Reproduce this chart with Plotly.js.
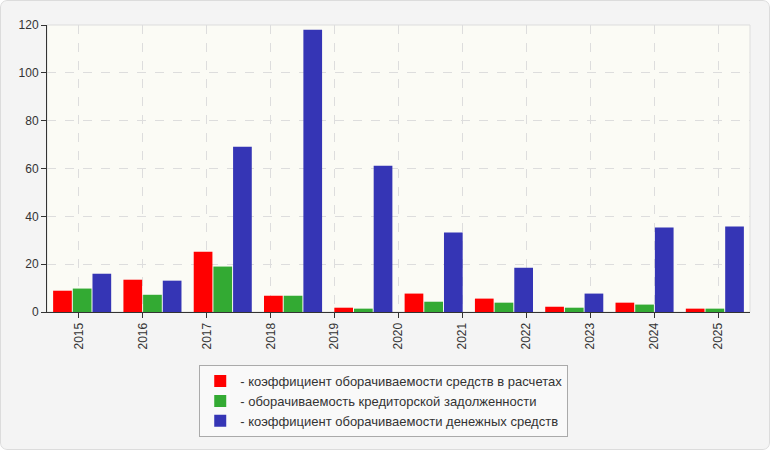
<!DOCTYPE html>
<html>
<head>
<meta charset="utf-8">
<script src="https://cdn.plot.ly/plotly-3.0.1.min.js"></script>
<style>
    html, body { margin: 0; padding: 0; background: #ffffff; }
    #wrap {
        position: relative;
        width: 770px;
        height: 450px;
        border-radius: 7px;
        overflow: hidden;
    }
    #wrap::after {
        content: '';
        position: absolute;
        left: 0; top: 0; right: 0; bottom: 0;
        border: 1px solid #dcdcdc;
        border-radius: 7px;
        pointer-events: none;
    }
    #grafico { width: 770px; height: 450px; }
</style>
</head>
<body>
<div id="wrap"><div id="grafico"></div></div>
<script>
// Подписи оси X (11 подписей, а групп столбцов на графике 10)
const years = ['2015', '2016', '2017', '2018', '2019', '2020', '2021', '2022', '2023', '2024', '2025'];

// Значения трёх рядов (по 10 групп)
const oborotRaschety = [8.9, 13.5, 25.2, 6.8, 1.8, 7.7, 5.6, 2.2, 3.9, 1.4];
const oborotKreditor = [9.8, 7.2, 19.0, 6.8, 1.4, 4.3, 3.9, 1.8, 3.1, 1.4];
const oborotDengi = [16.0, 13.1, 69.1, 118.0, 61.2, 33.2, 18.5, 7.7, 35.3, 35.7];

const seriesNames = [
    '- коэффициент оборачиваемости средств в расчетах',
    '- оборачиваемость кредиторской задолженности',
    '- коэффициент оборачиваемости денежных средств'
];
const seriesColors = ['#ff0000', '#33aa33', '#3535b5'];

// Позиции групп: 0..9
const groupPos = oborotDengi.map((v, i) => i);
const nGroups = groupPos.length;

// Подписи равномерно распределены по всей ширине (11 слотов)
const tickPos = years.map((y, i) => (i + 0.5) * nGroups / years.length - 0.5);

const fuente = { family: 'Liberation Sans, Arial, sans-serif', size: 12, color: '#333333' };

const trazas = [oborotRaschety, oborotKreditor, oborotDengi].map((vals, k) => ({
    type: 'bar',
    x: groupPos,
    y: vals,
    name: seriesNames[k],
    marker: { color: seriesColors[k], line: { width: 0 } },
    hoverinfo: 'y'
}));

const layout = {
    width: 770,
    height: 450,
    paper_bgcolor: '#f4f4f4',
    plot_bgcolor: '#fbfbf5',
    font: fuente,
    margin: { l: 47, r: 20, t: 25, b: 138, autoexpand: false },
    barmode: 'group',
    bargap: 0.16,
    bargroupgap: 0.05,
    showlegend: true,
    legend: {
        orientation: 'v',
        x: 0.479,
        xanchor: 'center',
        y: -0.185,
        yanchor: 'top',
        bgcolor: '#f9f9f9',
        bordercolor: '#aaaaaa',
        borderwidth: 1,
        font: { family: 'Liberation Sans, Arial, sans-serif', size: 13, color: '#333333' },
        tracegroupgap: 0,
        itemwidth: 30
    },
    xaxis: {
        type: 'linear',
        range: [-0.5, nGroups - 0.5],
        tickmode: 'array',
        tickvals: tickPos,
        ticktext: years,
        tickangle: -90,
        ticks: 'outside',
        ticklen: 5,
        tickcolor: '#333333',
        showline: true,
        linecolor: '#333333',
        linewidth: 1,
        showgrid: true,
        gridcolor: '#dddddd',
        griddash: 'dash',
        zeroline: false,
        tickfont: fuente,
        fixedrange: true
    },
    yaxis: {
        range: [0, 120],
        dtick: 20,
        ticks: 'outside',
        ticklen: 5,
        tickcolor: '#333333',
        showline: true,
        linecolor: '#333333',
        linewidth: 1,
        showgrid: true,
        gridcolor: '#dddddd',
        griddash: 'dash',
        zeroline: false,
        tickfont: fuente,
        fixedrange: true
    },
    shapes: [{
        type: 'rect',
        xref: 'paper', yref: 'paper',
        x0: 0, x1: 1, y0: 0, y1: 1,
        line: { color: '#dddddd', width: 1 },
        layer: 'below'
    }]
};

Plotly.newPlot('grafico', trazas, layout, { displayModeBar: false, staticPlot: true });
</script>
</body>
</html>
